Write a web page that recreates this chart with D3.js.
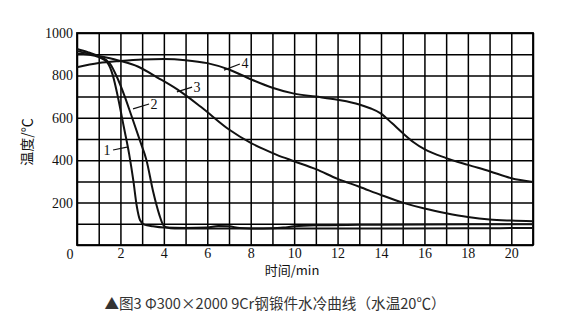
<!DOCTYPE html>
<html><head><meta charset="utf-8">
<script src="https://cdn.jsdelivr.net/npm/d3@7"></script>
<style>
body{margin:0;background:#fff;}
svg{display:block;}
</style></head>
<body><svg id="c" width="564" height="323"></svg>
<script>
// time (min) / temperature (°C)
const curve1 = [[0,902],[0.5,898],[1,886],[1.4,860],[1.65,800],[1.9,690],[2.15,560],[2.4,430],[2.6,300],[2.75,185],[2.9,118],[3.1,96],[3.5,88],[4,82],[5,80],[6,82],[6.5,90],[7,88],[7.5,80],[8,78],[10,78],[12,78],[15,78],[18,79],[21,80]];
const curve2 = [[0,925],[0.5,910],[1,890],[1.5,858],[1.85,790],[2.2,700],[2.5,612],[2.9,492],[3.2,400],[3.5,255],[3.8,140],[3.95,98],[4.1,84],[4.5,78],[6,78],[8,78],[9,79],[9.5,82],[10,88],[11,93],[13,95],[16,97],[21,98]];
const curve3 = [[0,915],[1,892],[2,868],[2.8,842],[3.7,790],[4.6,735],[5.7,652],[7,545],[8,482],[8.6,452],[9.2,425],[10,395],[11,358],[12,312],[13,275],[14,236],[15,200],[16,172],[17,150],[18,132],[19,120],[20,115],[21,112]];
const curve4 = [[0,838],[1,858],[2,868],[3,875],[4,877],[5,872],[6,858],[7,828],[8,782],[9,742],[10,714],[11,700],[12,685],[13,663],[13.5,645],[14,620],[14.5,575],[15,528],[15.5,485],[16,452],[17,410],[18,378],[19,348],[20,315],[21,297]];
const seriesNames = ["1","2","3","4"];
// label text position and leader line (data space)
const labelPos = [[1.38,448],[3.55,665],[5.53,745],[7.74,858]];
const leaderFrom = [[1.66,448],[2.58,642],[4.6,722],[6.77,825]];
const leaderTo = [[2.3,462],[3.32,665],[5.3,745],[7.5,854]];
const xTickLabels = [2,4,6,8,10,12,14,16,18,20];
const yTickLabels = [200,400,600,800,1000];
const xTitle = "时间/min";
const yTitle = "温度/℃";
const caption = "▲图3 Φ300×2000 9Cr钢锻件水冷曲线（水温20℃）";

const SERIF = "Liberation Serif";
const svg = d3.select("#c");
const x = d3.scaleLinear([0,21],[77,533]);
const y = d3.scaleLinear([0,1000],[245,33]);
const ink = "#000";
function serif(sel){ sel.attr("font-family",SERIF).style("font-family",SERIF).style("font-size","14px").attr("fill","#111"); }

// grid
const g = svg.append("g");
g.append("g").attr("transform",`translate(0,${y(0)})`)
  .call(d3.axisBottom(x).tickValues(d3.range(0,22,1)).tickSize(-(y(0)-y(1000))).tickFormat(""))
  .call(a=>{a.select(".domain").remove();a.selectAll("line").attr("stroke",ink).attr("stroke-width",1.5);});
g.append("g").attr("transform",`translate(${x(0)},0)`)
  .call(d3.axisLeft(y).tickValues(d3.range(0,1001,100)).tickSize(-(x(21)-x(0))).tickFormat(""))
  .call(a=>{a.select(".domain").remove();a.selectAll("line").attr("stroke",ink).attr("stroke-width",1.5);});
svg.append("rect").attr("x",x(0)).attr("y",y(1000)).attr("width",x(21)-x(0)).attr("height",y(0)-y(1000))
  .attr("fill","none").attr("stroke",ink).attr("stroke-width",1.8);

// tick labels
svg.append("g").attr("transform",`translate(0,${y(0)})`)
  .call(d3.axisBottom(x).tickValues(xTickLabels).tickSize(0).tickPadding(3).tickFormat(d3.format("d")))
  .call(a=>{a.select(".domain").remove();a.selectAll("text").call(serif);});
svg.append("g").attr("transform",`translate(${x(0)},0)`)
  .call(d3.axisLeft(y).tickValues(yTickLabels).tickSize(0).tickPadding(4).tickFormat(d3.format("d")))
  .call(a=>{a.select(".domain").remove();a.selectAll("text").call(serif);});
svg.append("text").attr("x",x(0)-7).attr("y",y(0)+14).attr("text-anchor","middle").call(serif).text("0");

// curves
const line = d3.line().x(d=>x(d[0])).y(d=>y(d[1])).curve(d3.curveMonotoneX);
[curve1,curve2,curve3,curve4].forEach(c=>{
  svg.append("path").attr("d",line(c)).attr("fill","none").attr("stroke","#111").attr("stroke-width",2);
});

// labels with leaders
seriesNames.forEach((n,i)=>{
  svg.append("line").attr("x1",x(leaderFrom[i][0])).attr("y1",y(leaderFrom[i][1]))
    .attr("x2",x(leaderTo[i][0])).attr("y2",y(leaderTo[i][1])).attr("stroke","#111").attr("stroke-width",1.2);
  svg.append("text").attr("x",x(labelPos[i][0])).attr("y",y(labelPos[i][1])).attr("dy","0.35em")
    .attr("text-anchor","middle").call(serif).text(n);
});

// axis titles
svg.append("text").attr("x",292).attr("y",275).attr("text-anchor","middle")
  .style("font-family","'Noto Sans CJK SC',sans-serif").style("font-size","13px").attr("fill","#111").text(xTitle);
svg.append("text").attr("transform","translate(32,142) rotate(-90)").attr("text-anchor","middle")
  .style("font-family","'Noto Sans CJK SC',sans-serif").style("font-size","14px").attr("fill","#111").text(yTitle);

// caption
svg.append("text").attr("x",275).attr("y",309).attr("text-anchor","middle")
  .style("font-family","'Noto Sans CJK SC','Noto Sans',sans-serif").style("font-size","14.6px").attr("fill","#333").text(caption);
</script></body></html>
